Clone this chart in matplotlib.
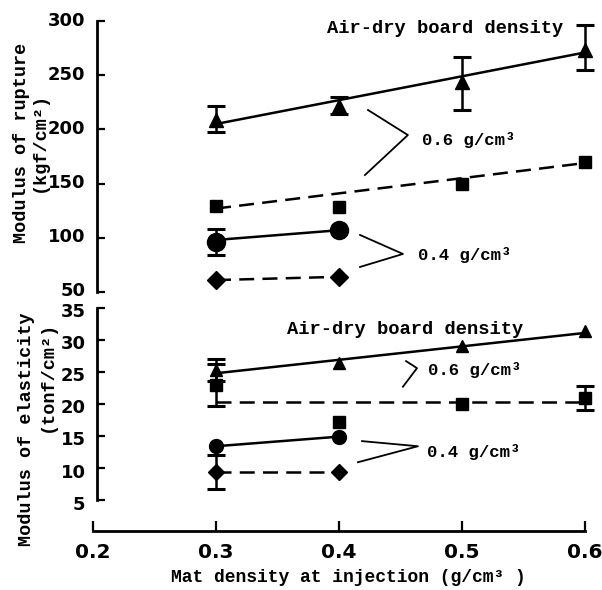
import matplotlib
matplotlib.use("Agg")
import matplotlib.pyplot as plt
from matplotlib.transforms import ScaledTranslation

# ---------------- data ----------------
mat_density = [0.3, 0.4, 0.5, 0.6]
mat_density_low = [0.3, 0.4]
fit_x = [0.3, 0.6]
fit_x_low = [0.3, 0.4]

# Modulus of rupture (kgf/cm2)
mor_tri = [209, 222, 244, 273]
mor_tri_err_lo = [11, 8, 26, 18]
mor_tri_err_hi = [13, 8, 23, 23]
mor_tri_fit = [205, 271]
mor_sq = [129, 128, 150, 170]
mor_sq_fit = [127, 169]
mor_circ = [96, 107]
mor_circ_err = [12, 0]
mor_circ_fit = [98, 107]
mor_dia = [61, 64]
mor_dia_fit = [61, 64]

# Modulus of elasticity (tonf/cm2)
moe_tri = [25.3, 26.4, 29.1, 31.4]
moe_tri_err = [1.7, 0, 0, 0]
moe_tri_fit = [24.8, 31.1]
moe_sq = [23.0, 17.2, 20.0, 20.9]
moe_sq_err = [3.3, 0, 0, 1.9]
moe_sq_fit = [20.3, 20.3]
moe_circ = [13.4, 14.8]
moe_circ_fit = [13.4, 14.9]
moe_dia = [9.4, 9.3]
moe_dia_err = [2.7, 0]
moe_dia_fit = [9.4, 9.4]

x_ticks = [0.2, 0.3, 0.4, 0.5, 0.6]
mor_ticks = [50, 100, 150, 200, 250, 300]
moe_ticks = [5, 10, 15, 20, 25, 30, 35]

# ---------------- style ----------------
MONO = "Liberation Mono"
TICKFONT = "DejaVu Sans"
LW = 1.8
DASH = (6, 3.3)

fig = plt.figure(figsize=(6.02, 5.90), dpi=100)
W, H = 602.0, 590.0

def ax_rect(left_px, right_px, top_px, bottom_px):
    return [left_px / W, 1 - bottom_px / H, (right_px - left_px) / W, (bottom_px - top_px) / H]

XL = (0.2, 0.612)
x_left_px = 93
x_right_px = 93 + (XL[1] - XL[0]) * 1230

ax1 = fig.add_axes(ax_rect(x_left_px, x_right_px, 15.6, 298.5))
ax2 = fig.add_axes(ax_rect(x_left_px, x_right_px, 299.0, 531.0))

for ax in (ax1, ax2):
    ax.set_xlim(*XL)
    ax.patch.set_visible(False)
    for s in ("top", "right"):
        ax.spines[s].set_visible(False)
    ax.spines["left"].set_linewidth(2.0)
    ax.spines["bottom"].set_linewidth(2.0)
    ax.spines["left"].set_position(("data", 0.203))
    ax.tick_params(direction="in", length=5.5, width=1.6)

ax1.set_ylim(44, 305)
ax1.spines["bottom"].set_visible(False)
ax1.set_xticks([])
ax1.spines["left"].set_bounds(50, 300)
ax1.set_yticks(mor_ticks)
ax1.set_yticklabels([str(t) for t in mor_ticks], fontfamily=TICKFONT,
                    fontweight="bold", fontsize=13)
ax1.tick_params(axis="y", pad=8)

ax2.set_ylim(0.16, 36.4)
ax2.spines["left"].set_bounds(5, 35)
ax2.spines["bottom"].set_bounds(0.2, 0.6)
ax2.set_yticks(moe_ticks)
ax2.set_yticklabels([str(t) for t in moe_ticks], fontfamily=TICKFONT,
                    fontweight="bold", fontsize=13)
ax2.set_xticks(x_ticks)
ax2.set_xticklabels([f"{t:.1f}" for t in x_ticks], fontfamily=TICKFONT,
                    fontweight="bold", fontsize=14.5)
ax2.tick_params(axis="y", pad=8)
ax2.tick_params(axis="x", pad=9, length=7)

# nudge the touching "50" / "35" labels apart by a couple of pixels
up = ScaledTranslation(0, 2.5 / 100, fig.dpi_scale_trans)
down = ScaledTranslation(0, -2.5 / 100, fig.dpi_scale_trans)
for lab in ax1.get_yticklabels():
    lab.set_transform(lab.get_transform() + up)
for lab in ax2.get_yticklabels():
    lab.set_transform(lab.get_transform() + down)

ebkw = dict(fmt="none", ecolor="black", elinewidth=1.8, capsize=6.5, capthick=2.2, zorder=2)

# ---- top panel ----
ax1.plot(fit_x, mor_tri_fit, color="black", lw=LW, zorder=1)
ax1.plot(fit_x, mor_sq_fit, color="black", lw=LW, dashes=DASH, zorder=1)
ax1.plot(fit_x_low, mor_circ_fit, color="black", lw=LW, zorder=1)
ax1.plot(fit_x_low, mor_dia_fit, color="black", lw=LW, dashes=DASH, zorder=1)
ax1.errorbar(mat_density, mor_tri, yerr=[mor_tri_err_lo, mor_tri_err_hi], **ebkw)
ax1.errorbar(mat_density_low[:1], mor_circ[:1], yerr=mor_circ_err[:1], **ebkw)
ax1.plot(mat_density, mor_tri, ls="none", marker="^", ms=10, color="black", zorder=3)
ax1.plot(mat_density, mor_sq, ls="none", marker="s", ms=9, color="black", zorder=3)
ax1.plot(mat_density_low, mor_circ, ls="none", marker="o", ms=13, color="black", zorder=3)
ax1.plot(mat_density_low, mor_dia, ls="none", marker="D", ms=9, color="black", zorder=3)

# ---- bottom panel ----
ax2.plot(fit_x, moe_tri_fit, color="black", lw=LW, zorder=1)
ax2.plot(fit_x, moe_sq_fit, color="black", lw=LW, dashes=DASH, zorder=1)
ax2.plot(fit_x_low, moe_circ_fit, color="black", lw=LW, zorder=1)
ax2.plot(fit_x_low, moe_dia_fit, color="black", lw=LW, dashes=DASH, zorder=1)
ax2.errorbar(mat_density[:1], moe_tri[:1], yerr=moe_tri_err[:1], **ebkw)
ax2.errorbar([mat_density[0], mat_density[3]], [moe_sq[0], moe_sq[3]],
             yerr=[moe_sq_err[0], moe_sq_err[3]], **ebkw)
ax2.errorbar(mat_density_low[:1], moe_dia[:1], yerr=moe_dia_err[:1], **ebkw)
ax2.plot(mat_density, moe_tri, ls="none", marker="^", ms=9, color="black", zorder=3)
ax2.plot(mat_density, moe_sq, ls="none", marker="s", ms=8.5, color="black", zorder=3)
ax2.plot(mat_density_low, moe_circ, ls="none", marker="o", ms=10, color="black", zorder=3)
ax2.plot(mat_density_low, moe_dia, ls="none", marker="D", ms=8.5, color="black", zorder=3)

# ---- annotations ----
tkw = dict(fontfamily=MONO, fontweight="bold", fontsize=12.5, color="black",
           va="center", ha="left")
akw = dict(tkw, fontsize=13.5)
bkw = dict(color="black", lw=1.3, zorder=1)

ax1.text(0.390, 293.5, "Air-dry board density", **akw)
ax1.plot([0.4236, 0.456, 0.4211], [217.9, 194.8, 157.9], **bkw)
ax1.text(0.4675, 190.2, "0.6 g/cm³", **tkw)
ax1.plot([0.4171, 0.452, 0.4171], [102.6, 85.1, 73.1], **bkw)
ax1.text(0.4642, 84.1, "0.4 g/cm³", **tkw)

ax2.text(0.3577, 31.7, "Air-dry board density", **akw)
ax2.plot([0.4545, 0.4634, 0.452], [26.7, 25.6, 22.7], **bkw)
ax2.text(0.4724, 25.3, "0.6 g/cm³", **tkw)
ax2.plot([0.4187, 0.4642, 0.4154], [14.2, 13.4, 10.9], **bkw)
ax2.text(0.4715, 12.5, "0.4 g/cm³", **tkw)

# ---- axis labels ----
lkw = dict(fontfamily=MONO, fontweight="bold", fontsize=13.3, color="black",
           rotation=90, ha="center", va="center")
fig.text(22 / W, 1 - 143 / H, "Modulus of rupture", **lkw)
fig.text(39 / W, 1 - 142 / H, "(kgf/cm²)", **lkw)
fig.text(27 / W, 1 - 429 / H, "Modulus of elasticity", **lkw)
fig.text(47 / W, 1 - 376 / H, "(tonf/cm²)", **lkw)
fig.text(348 / W, 1 - 577 / H, "Mat density at injection (g/cm³ )",
         fontfamily=MONO, fontweight="bold", fontsize=13, ha="center", va="center")

fig.savefig("out.png", dpi=100)
